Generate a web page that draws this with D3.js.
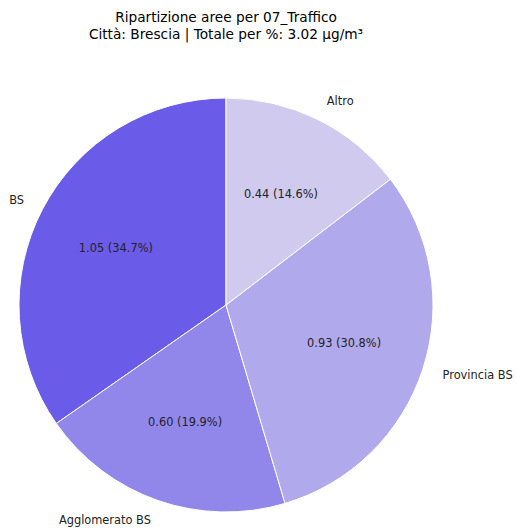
<!DOCTYPE html>
<html><head><meta charset="utf-8">
<script src="https://cdn.jsdelivr.net/npm/d3@7"></script>
<style>body{margin:0;background:#fff}svg{display:block}text{font-family:"DejaVu Sans",sans-serif;fill:#222}</style>
</head><body>
<script>
const categories = ["BS", "Agglomerato BS", "Provincia BS", "Altro"];
const values = [1.048, 0.601, 0.930, 0.441];
const colors = ["#6a5ce9", "#9187ea", "#b0a9eb", "#cfcaee"];
const titleLines = ["Ripartizione aree per 07_Traffico", "Città: Brescia | Totale per %: 3.02 µg/m³"];

const W = 516, H = 530, cx = 226, cy = 305, R = 207;
const svg = d3.select("body").append("svg").attr("width", W).attr("height", H);
const total = d3.sum(values);
const data = categories.map((c, i) => ({cat: c, v: values[i], col: colors[i]}));
// counterclockwise from top, as in matplotlib startangle=90
const pie = d3.pie().sort(null).value(d => d.v).startAngle(0).endAngle(-2 * Math.PI);
const arcs = pie(data);
const arc = d3.arc().innerRadius(0).outerRadius(R);
const g = svg.append("g").attr("transform", `translate(${cx},${cy})`);
g.selectAll("path").data(arcs).join("path")
  .attr("d", arc).attr("fill", d => d.data.col)
  .attr("stroke", "#fff").attr("stroke-width", 1);

function pos(d, f) {
  const a = (d.startAngle + d.endAngle) / 2; // d3 angle: 0 at top, clockwise positive
  return [Math.sin(a) * R * f, -Math.cos(a) * R * f];
}
g.selectAll("text.lab").data(arcs).join("text").attr("class", "lab")
  .attr("x", d => pos(d, 1.1)[0]).attr("y", d => pos(d, 1.1)[1])
  .attr("text-anchor", d => pos(d, 1.1)[0] < 0 ? "end" : "start")
  .attr("dominant-baseline", "central").attr("font-size", 11.4)
  .text(d => d.data.cat);
g.selectAll("text.pct").data(arcs).join("text").attr("class", "pct")
  .attr("x", d => pos(d, 0.6)[0]).attr("y", d => pos(d, 0.6)[1])
  .attr("text-anchor", "middle").attr("dominant-baseline", "central").attr("font-size", 11.4)
  .text(d => `${d.data.v.toFixed(2)} (${(d.data.v / total * 100).toFixed(1)}%)`);

svg.selectAll("text.title").data(titleLines).join("text").attr("class", "title")
  .attr("x", 226).attr("y", (d, i) => 17 + i * 16.5)
  .attr("text-anchor", "middle").attr("dominant-baseline", "central")
  .attr("font-size", 13.7).style("fill", "#000").text(d => d);
</script>
</body></html>
